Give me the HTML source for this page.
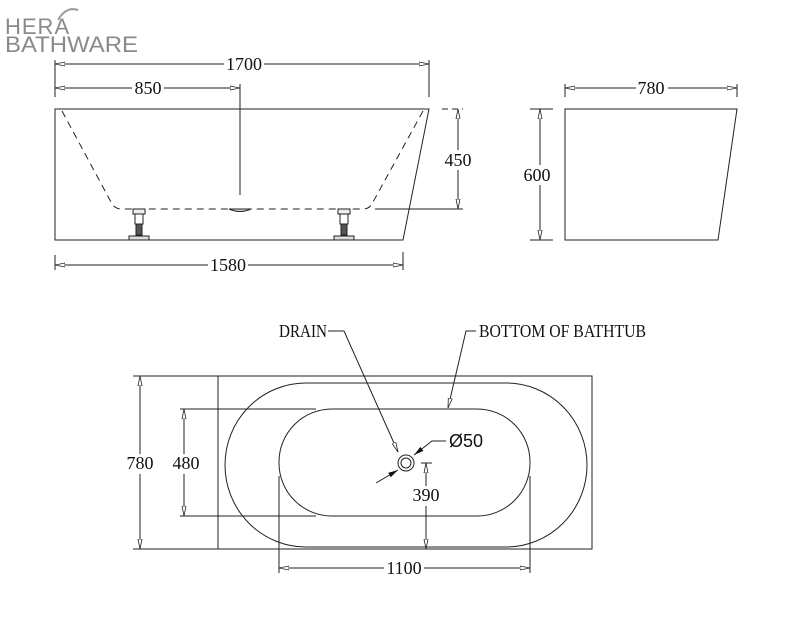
<!DOCTYPE html>
<html><head><meta charset="utf-8"><style>
html,body{margin:0;padding:0;background:#fff;width:796px;height:636px;overflow:hidden}
svg{display:block}
.t{font-family:"Liberation Serif",serif;font-size:18px;fill:#111}
.s{font-family:"Liberation Sans",sans-serif;font-size:18px;fill:#111}
</style></head><body>
<svg width="796" height="636" viewBox="0 0 796 636" xmlns="http://www.w3.org/2000/svg">
<defs>
<marker id="a" markerWidth="10" markerHeight="6" refX="10" refY="3" orient="auto-start-reverse" markerUnits="userSpaceOnUse"><path d="M0,1 L10,3 L0,5 Z" fill="#fff" stroke="#222" stroke-width="0.8"/></marker>
<marker id="b" markerWidth="10" markerHeight="6" refX="10" refY="3" orient="auto-start-reverse" markerUnits="userSpaceOnUse"><path d="M0,0.5 L10,3 L0,5.5 Z" fill="#111"/></marker>
</defs>
<text x="5" y="34" font-family="Liberation Sans,sans-serif" font-size="22" fill="#8a8a8a" letter-spacing="1">HERA</text>
<text x="5" y="52" font-family="Liberation Sans,sans-serif" font-size="22" fill="#8a8a8a" textLength="133" lengthAdjust="spacingAndGlyphs">BATHWARE</text>
<path d="M58,20 Q66,6 78,10" stroke="#999" stroke-width="2" fill="none"/>
<g stroke="#222" stroke-width="1" fill="none">
<path d="M55,109 L429,109 L403,240 L55,240 Z"/>
<path d="M62,111 L111,202 Q114,209 122,209 L363,209 Q370,209 373,202 L423,111" stroke-dasharray="7,5"/>
<line x1="240" y1="84" x2="240" y2="195"/>
<path d="M229,209 Q240,214 251,209 Z" fill="#ddd"/>
<rect x="133" y="209" width="12" height="5" fill="#eee"/><rect x="135" y="214" width="8" height="10"/><rect x="136" y="224" width="6" height="11" fill="#555"/><rect x="129" y="236" width="20" height="4" fill="#ddd"/>
<rect x="338" y="209" width="12" height="5" fill="#eee"/><rect x="340" y="214" width="8" height="10"/><rect x="341" y="224" width="6" height="11" fill="#555"/><rect x="334" y="236" width="20" height="4" fill="#ddd"/>
<line x1="55" y1="60" x2="55" y2="97"/><line x1="429" y1="60" x2="429" y2="97"/>
<line x1="55" y1="64" x2="429" y2="64" marker-start="url(#a)" marker-end="url(#a)"/>
<line x1="55" y1="88" x2="240" y2="88" marker-start="url(#a)" marker-end="url(#a)"/>
<line x1="55" y1="255" x2="55" y2="270"/><line x1="403" y1="252" x2="403" y2="270"/>
<line x1="55" y1="265" x2="403" y2="265" marker-start="url(#a)" marker-end="url(#a)"/>
<line x1="442" y1="109" x2="463" y2="109" stroke-dasharray="6,4"/>
<line x1="375" y1="209" x2="463" y2="209"/>
<line x1="458" y1="109" x2="458" y2="209" marker-start="url(#a)" marker-end="url(#a)"/>
<path d="M565,109 L737,109 L718,240 L565,240 Z"/>
<line x1="565" y1="84" x2="565" y2="97"/><line x1="737" y1="84" x2="737" y2="97"/>
<line x1="565" y1="88" x2="737" y2="88" marker-start="url(#a)" marker-end="url(#a)"/>
<line x1="530" y1="109" x2="553" y2="109"/><line x1="530" y1="240" x2="553" y2="240"/>
<line x1="540" y1="109" x2="540" y2="240" marker-start="url(#a)" marker-end="url(#a)"/>
<rect x="218" y="376" width="374" height="173"/>
<path d="M306,383 L506,383 A81,82 0 0 1 506,547 L306,547 A81,82 0 0 1 306,383 Z"/>
<rect x="279" y="409" width="251" height="107" rx="53" ry="53"/>
<circle cx="406" cy="463" r="8"/><circle cx="406" cy="463" r="5"/>
<line x1="279" y1="476" x2="279" y2="573"/><line x1="530" y1="476" x2="530" y2="573"/>
<line x1="279" y1="568" x2="530" y2="568" marker-start="url(#a)" marker-end="url(#a)"/>
<line x1="421" y1="463" x2="432" y2="463"/>
<line x1="426" y1="463" x2="426" y2="549" marker-start="url(#a)" marker-end="url(#a)"/>
<line x1="180" y1="409" x2="316" y2="409"/><line x1="180" y1="516" x2="316" y2="516"/>
<line x1="184" y1="409" x2="184" y2="516" marker-start="url(#a)" marker-end="url(#a)"/>
<line x1="133" y1="376" x2="218" y2="376"/><line x1="133" y1="549" x2="218" y2="549"/>
<line x1="140" y1="376" x2="140" y2="549" marker-start="url(#a)" marker-end="url(#a)"/>
<path d="M328,331 L344,331 L398,452" marker-end="url(#a)"/>
<path d="M476,331 L466,331 L448,408" marker-end="url(#a)"/>
<path d="M446,441 L432,441 L414,455" marker-end="url(#b)"/>
<path d="M376,483 L398,470" marker-end="url(#b)"/>
</g>
<rect x="224" y="55" width="40" height="18" fill="#fff"/><text class="t" x="244" y="70" text-anchor="middle">1700</text>
<rect x="132" y="80" width="32" height="18" fill="#fff"/><text class="t" x="148" y="94" text-anchor="middle">850</text>
<rect x="208" y="256" width="40" height="18" fill="#fff"/><text class="t" x="228" y="271" text-anchor="middle">1580</text>
<rect x="444" y="150" width="30" height="20" fill="#fff"/><text class="t" x="458" y="166" text-anchor="middle">450</text>
<rect x="636" y="80" width="32" height="18" fill="#fff"/><text class="t" x="651" y="94" text-anchor="middle">780</text>
<rect x="522" y="165" width="30" height="20" fill="#fff"/><text class="t" x="537" y="181" text-anchor="middle">600</text>
<rect x="384" y="560" width="40" height="18" fill="#fff"/><text class="t" x="404" y="574" text-anchor="middle">1100</text>
<rect x="410" y="486" width="32" height="20" fill="#fff"/><text class="t" x="426" y="501" text-anchor="middle">390</text>
<rect x="170" y="454" width="32" height="20" fill="#fff"/><text class="t" x="186" y="469" text-anchor="middle">480</text>
<rect x="124" y="454" width="32" height="20" fill="#fff"/><text class="t" x="140" y="469" text-anchor="middle">780</text>
<text class="t" x="279" y="337" font-size="16" textLength="48" lengthAdjust="spacingAndGlyphs">DRAIN</text>
<text class="t" x="479" y="337" font-size="16" textLength="167" lengthAdjust="spacingAndGlyphs">BOTTOM OF BATHTUB</text>
<text class="s" x="449" y="447">Ø50</text>
</svg>
</body></html>
